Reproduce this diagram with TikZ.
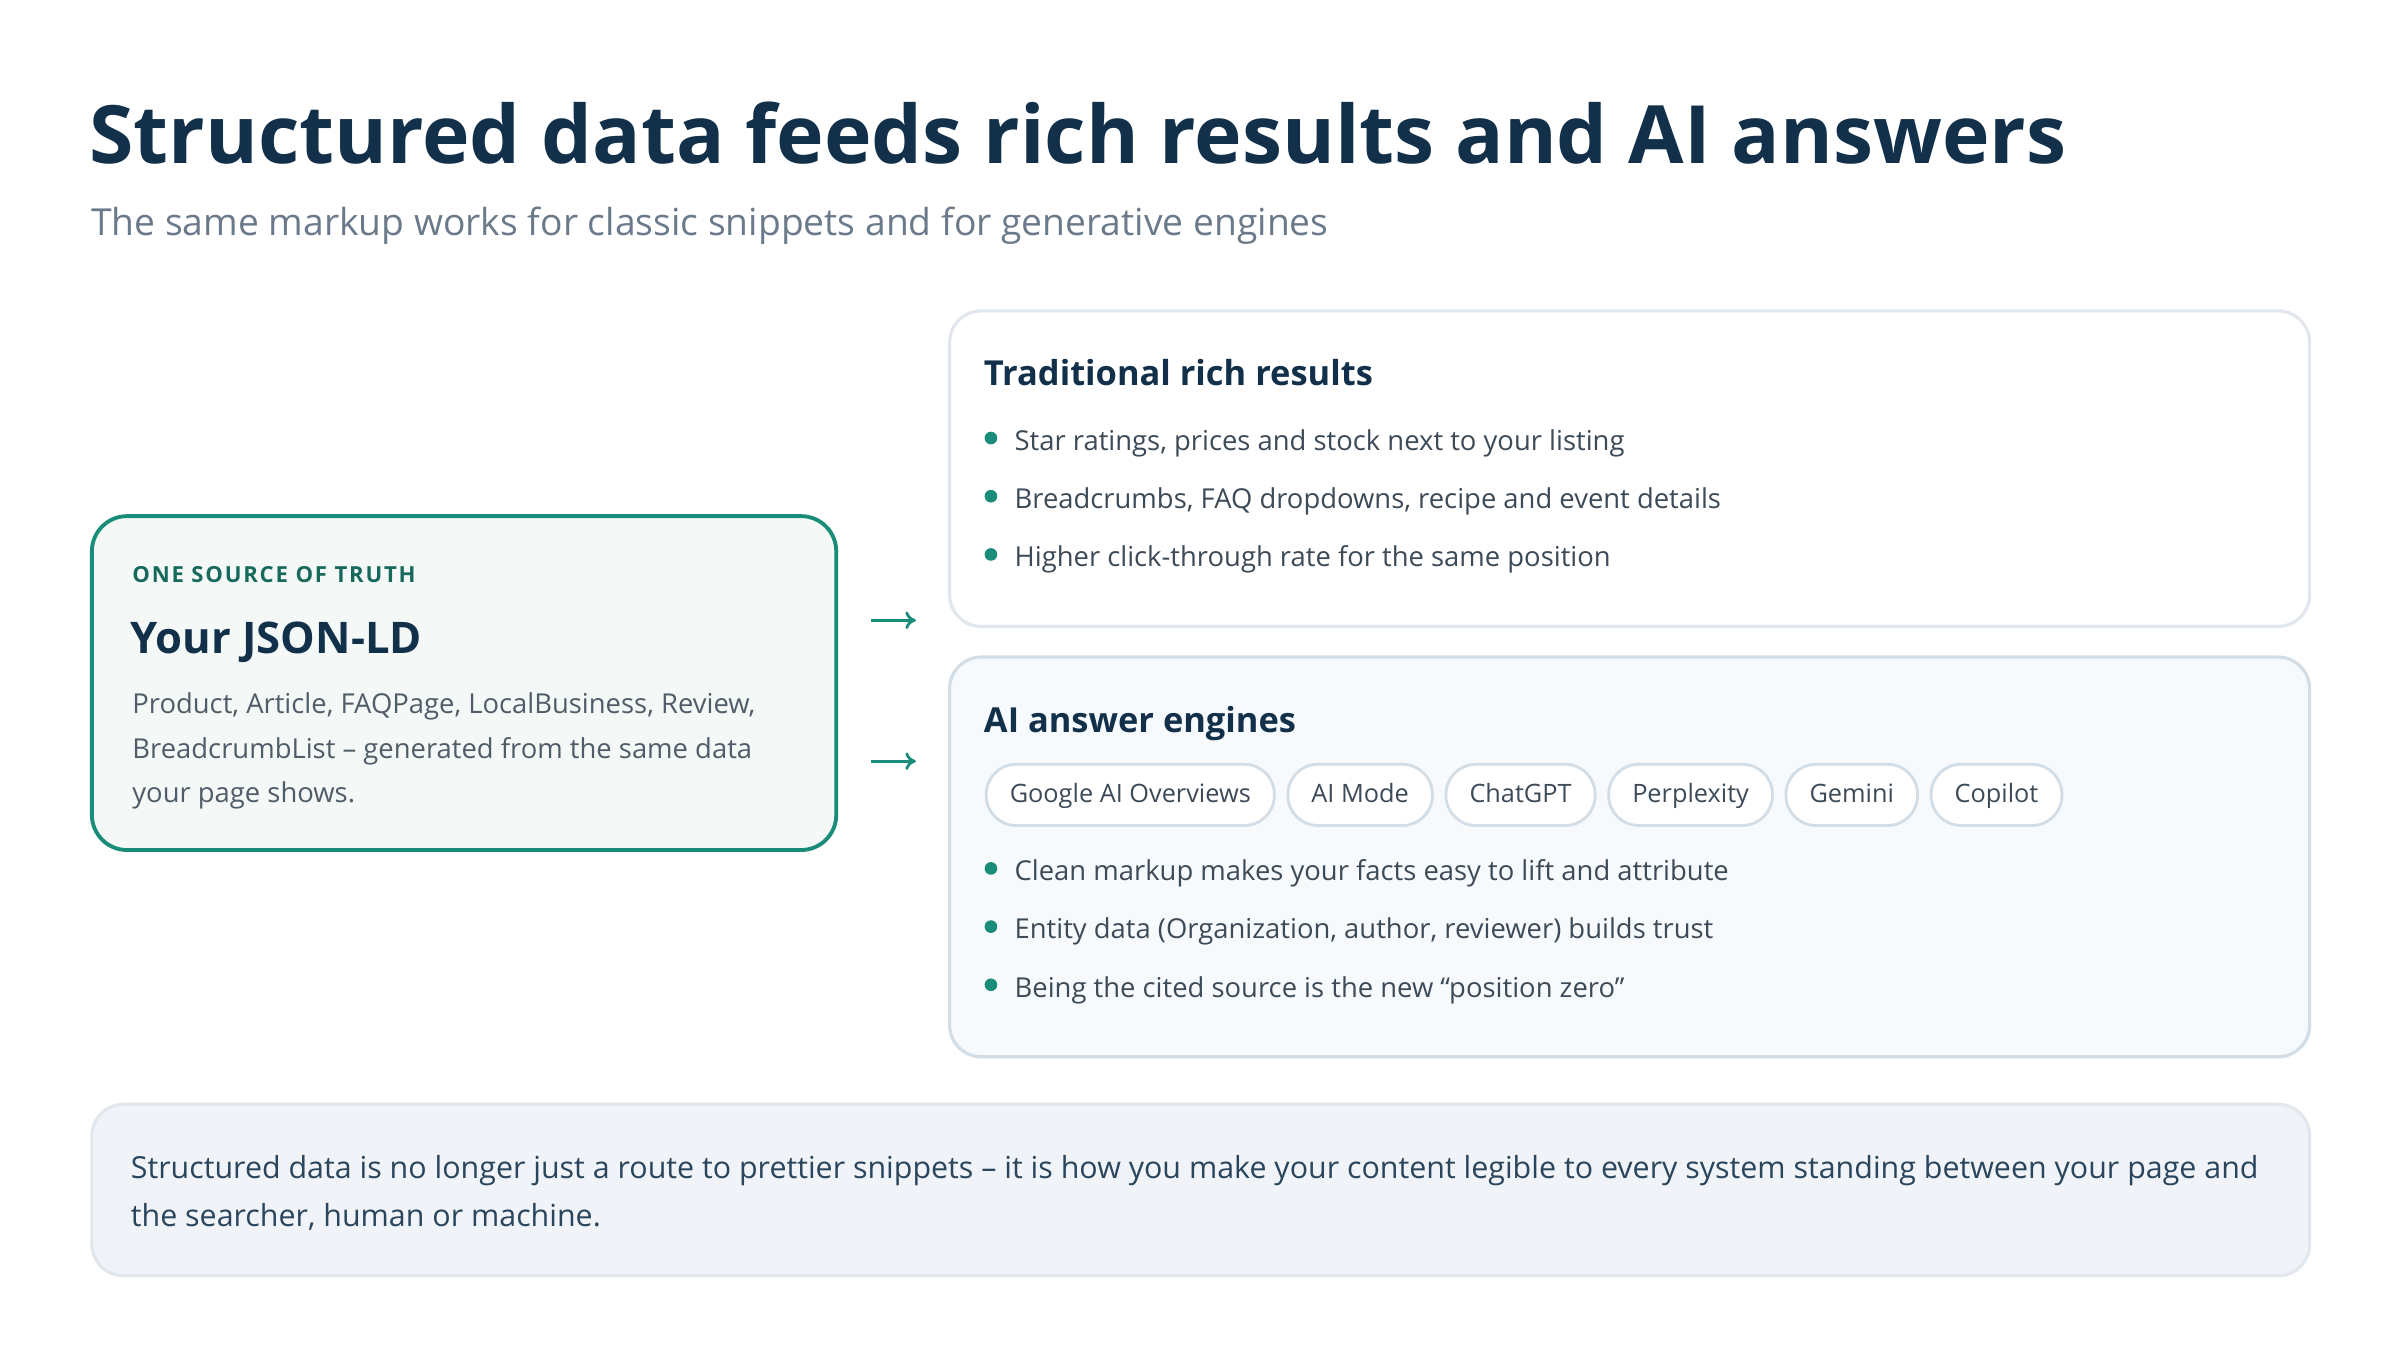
\documentclass[tikz,border=0pt]{standalone}
\usepackage{fontspec}
\setmainfont{Open Sans}
\usepackage{xcolor}
\usetikzlibrary{positioning,arrows.meta}
\definecolor{navy}{HTML}{12304A}
\definecolor{greytext}{HTML}{6B7A8A}
\definecolor{bodytext}{HTML}{3D4A57}
\definecolor{teal}{HTML}{1A8C7A}
\definecolor{darkteal}{HTML}{17695C}
\definecolor{cardline}{HTML}{E1E7ED}
\definecolor{engline}{HTML}{D3DDE6}
\definecolor{engfill}{HTML}{F7FAFC}
\definecolor{notefill}{HTML}{F0F4F8}
\definecolor{srcfill}{HTML}{F4F9F7}
\tikzset{
  card/.style={draw=cardline,line width=0.9pt,rounded corners=9pt,fill=white},
  txt/.style={anchor=base west,inner sep=0pt,text=bodytext,font=\fontsize{7.8}{10}\selectfont},
  head/.style={anchor=base west,inner sep=0pt,text=navy,font=\fontsize{9.8}{12}\selectfont\bfseries},
  pill/.style={draw=engline,line width=0.8pt,fill=white,rounded corners=8.5pt,minimum height=17.4pt,inner xsep=6.7pt,text height=5.8pt,text depth=1.6pt,text=bodytext,font=\fontsize{7.2}{9}\selectfont,anchor=west},
  dot/.style={circle,fill=teal,inner sep=0pt,minimum size=3.6pt},
  flow/.style={draw=teal,line width=0.8pt,-{To[length=3pt,width=5pt]}}
}
\newcommand{\bul}[3]{%
  \node[dot] (d#1) at (647,#2-8) {};
  \node[txt] (t#1) at (662,#2) {#3};}
\begin{document}
\begin{tikzpicture}[x=0.015316cm,y=-0.015316cm]
\useasboundingbox (0,0) rectangle (1567,882);
% title
\node[anchor=base west,inner sep=0pt,text=navy,font=\fontsize{22.9}{26}\selectfont\bfseries] (title) at (58,107) {Structured data feeds rich results and AI answers};
\node[anchor=base west,inner sep=0pt,text=greytext,font=\fontsize{10.6}{13}\selectfont] (sub) at (59,154) {The same markup works for classic snippets and for generative engines};
% source box
\draw[draw=teal,line width=1.1pt,rounded corners=10pt,fill=srcfill] (60,337) rectangle (546,555);
\node[anchor=base west,inner sep=0pt,text=darkteal,font=\fontsize{6.3}{8}\selectfont\bfseries\addfontfeature{LetterSpace=8}] (lbl) at (86,380) {ONE SOURCE OF TRUTH};
\node[anchor=base west,inner sep=0pt,text=navy,font=\fontsize{12.4}{15}\selectfont\bfseries] (json) at (85,427) {Your JSON-LD};
\node[anchor=north west,inner sep=0pt,text=bodytext!90,align=left,font=\fontsize{7.8}{12.6}\selectfont] (types) at (86,452) {Product, Article, FAQPage, LocalBusiness, Review,\\BreadcrumbList – generated from the same data\\your page shows.};
% arrows
\coordinate (a1) at (569,405); \coordinate (b1) at (598,405);
\coordinate (a2) at (569,497); \coordinate (b2) at (598,497);
\draw[flow] (a1) -- (b1);
\draw[flow] (a2) -- (b2);
% traditional card
\draw[card] (620,203) rectangle (1508,409);
\node[head] (trad) at (642,252) {Traditional rich results};
\bul{1}{294}{Star ratings, prices and stock next to your listing}
\bul{2}{332}{Breadcrumbs, FAQ dropdowns, recipe and event details}
\bul{3}{370}{Higher click-through rate for the same position}
% AI card
\draw[card,draw=engline,fill=engfill] (620,429) rectangle (1508,690);
\node[head] (ai) at (642,478) {AI answer engines};
\node[pill] (p1) at (643,519) {Google AI Overviews};
\node[pill,right=7 of p1] (p2) {AI Mode};
\node[pill,right=7 of p2] (p3) {ChatGPT};
\node[pill,right=7 of p3] (p4) {Perplexity};
\node[pill,right=7 of p4] (p5) {Gemini};
\node[pill,right=7 of p5] (p6) {Copilot};
\bul{4}{575}{Clean markup makes your facts easy to lift and attribute}
\bul{5}{613}{Entity data (Organization, author, reviewer) builds trust}
\bul{6}{651}{Being the cited source is the new “position zero”}
% note
\draw[draw=cardline,line width=0.9pt,rounded corners=9pt,fill=notefill] (60,721) rectangle (1508,833);
\node[anchor=north west,inner sep=0pt,text=navy!90,align=left,font=\fontsize{8.65}{13.5}\selectfont] (note) at (85,754) {Structured data is no longer just a route to prettier snippets – it is how you make your content legible to every system standing between your page and\\the searcher, human or machine.};
\end{tikzpicture}
\end{document}
